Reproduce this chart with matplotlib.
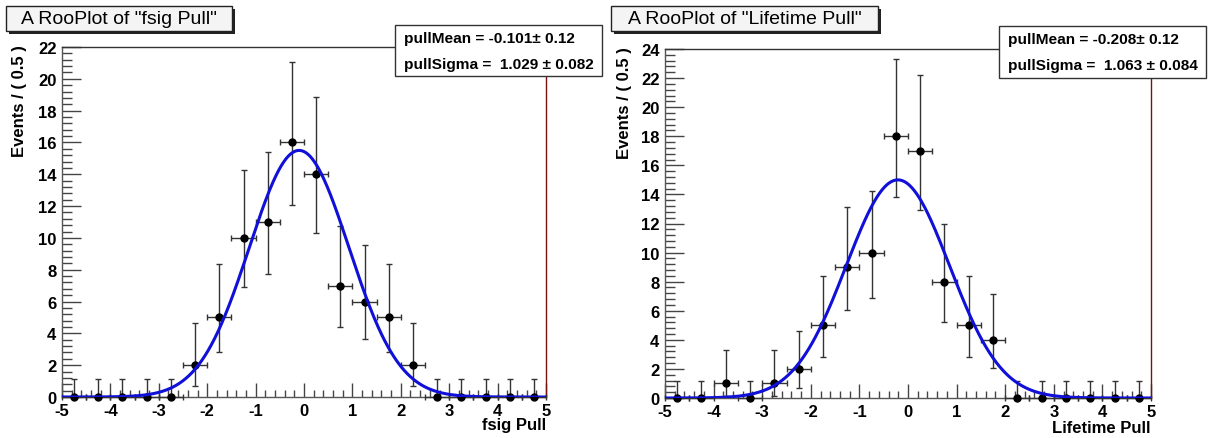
import numpy as np
import matplotlib
matplotlib.use("Agg")
import matplotlib.pyplot as plt
from matplotlib.patches import Rectangle
from matplotlib.ticker import MultipleLocator

plt.rcParams['font.family'] = ['Liberation Sans', 'DejaVu Sans']
plt.rcParams['axes.unicode_minus'] = False

W, H = 1214, 439

# ---- data ----
bin_centers = [-4.75, -4.25, -3.75, -3.25, -2.75, -2.25, -1.75, -1.25, -0.75, -0.25,
               0.25, 0.75, 1.25, 1.75, 2.25, 2.75, 3.25, 3.75, 4.25, 4.75]
fsig_counts = [0, 0, 0, 0, 0, 2, 5, 10, 11, 16, 14, 7, 6, 5, 2, 0, 0, 0, 0, 0]
life_counts = [0, 0, 1, 0, 1, 2, 5, 9, 10, 18, 17, 8, 5, 4, 0, 0, 0, 0, 0, 0]

# Poisson (asymmetric) error bar extents, keyed by count
err_low = {0: 0.0, 1: 0.83, 2: 1.29, 4: 1.91, 5: 2.16, 6: 2.38, 7: 2.58, 8: 2.77,
           9: 2.94, 10: 3.11, 11: 3.27, 14: 3.70, 16: 3.96, 17: 4.08, 18: 4.20}
err_high = {0: 1.15, 1: 2.30, 2: 2.64, 4: 3.16, 5: 3.38, 6: 3.58, 7: 3.77, 8: 3.95,
            9: 4.11, 10: 4.26, 11: 4.42, 14: 4.83, 16: 5.08, 17: 5.20, 18: 5.32}

fsig_mean, fsig_sigma, fsig_peak = -0.101, 1.029, 15.5
life_mean, life_sigma, life_peak = -0.208, 1.063, 15.0

panels = [
    dict(title='A RooPlot of "fsig Pull"', counts=fsig_counts, mean=fsig_mean,
         sigma=fsig_sigma, peak=fsig_peak, ymax=22, xlabel='fsig Pull',
         stat=('pullMean = -0.101\u00b1 0.12', 'pullSigma =  1.029 \u00b1 0.082'),
         ax_px=(62, 546, 48, 398), title_px=(6, 232, 7, 32),
         stat_px=(395, 602, 26, 77), ylab_x=20, xlab_y=426),
    dict(title='A RooPlot of "Lifetime Pull"', counts=life_counts, mean=life_mean,
         sigma=life_sigma, peak=life_peak, ymax=24, xlabel='Lifetime Pull',
         stat=('pullMean = -0.208\u00b1 0.12', 'pullSigma =  1.063 \u00b1 0.084'),
         ax_px=(665, 1151, 50, 399), title_px=(611, 878, 7, 32),
         stat_px=(999, 1206, 27, 79), ylab_x=625, xlab_y=429),
]

fig = plt.figure(figsize=(W / 100, H / 100), dpi=100)
fig.patch.set_facecolor('white')

def fx(px):
    return px / W

def fy(py):
    return 1 - py / H

for p in panels:
    x0, x1, yt, yb = p['ax_px']
    ax = fig.add_axes([fx(x0), fy(yb), fx(x1 - x0), (yb - yt) / H])
    ax.set_xlim(-5, 5)
    ax.set_ylim(0, p['ymax'])
    counts = np.array(p['counts'])
    lo = np.array([err_low[c] for c in counts])
    hi = np.array([err_high[c] for c in counts])
    ax.errorbar(bin_centers, counts, yerr=[lo, hi], xerr=0.25, fmt='o',
                color='black', ecolor='#333333', elinewidth=1.0, capsize=2.5,
                capthick=1.0, markersize=5, clip_on=False, zorder=3)
    xs = np.linspace(-5, 5, 600)
    ys = p['peak'] * np.exp(-0.5 * ((xs - p['mean']) / p['sigma']) ** 2)
    ax.plot(xs, ys, color='#1010d8', lw=2.2, zorder=4)

    ax.xaxis.set_major_locator(MultipleLocator(1))
    ax.xaxis.set_minor_locator(MultipleLocator(0.2))
    ax.yaxis.set_major_locator(MultipleLocator(2))
    ax.yaxis.set_minor_locator(MultipleLocator(0.4))
    ax.tick_params(axis='x', which='major', direction='in', length=10, width=1,
                   color='#444444', top=False, labelsize=12, pad=4)
    ax.tick_params(axis='x', which='minor', direction='in', length=5, width=1,
                   color='#444444', top=False)
    ax.tick_params(axis='y', which='major', direction='in', length=14, width=1,
                   color='#444444', right=False, labelsize=12, pad=4)
    ax.tick_params(axis='y', which='minor', direction='in', length=7, width=1,
                   color='#444444', right=False)
    for lab in ax.get_xticklabels() + ax.get_yticklabels():
        lab.set_fontweight('bold')
    ax.spines['left'].set_color('#555555')
    ax.spines['bottom'].set_color('#555555')
    ax.spines['top'].set_color('#333333')
    ax.spines['right'].set_color('#7a1010')
    for s in ax.spines.values():
        s.set_linewidth(1.0)

    # y label
    fig.text(fx(p['ylab_x']), fy(yt - 3), 'Events / ( 0.5 )', rotation=90,
             ha='center', va='top', fontsize=12, fontweight='bold')
    # x label
    fig.text(fx(x1), fy(p['xlab_y']), p['xlabel'], ha='right', va='center',
             fontsize=12, fontweight='bold')

    # title box with shadow
    tx0, tx1, ty0, ty1 = p['title_px']
    fig.patches.append(Rectangle((fx(tx0 + 3), fy(ty1 + 3)), fx(tx1 - tx0), (ty1 - ty0) / H,
                                 transform=fig.transFigure, facecolor='#222222',
                                 edgecolor='none', zorder=5))
    fig.patches.append(Rectangle((fx(tx0), fy(ty1)), fx(tx1 - tx0), (ty1 - ty0) / H,
                                 transform=fig.transFigure, facecolor='#f4f4f4',
                                 edgecolor='#222222', lw=1.0, zorder=6))
    fig.text(fx((tx0 + tx1) / 2), fy((ty0 + ty1) / 2 + 0.5), p['title'], ha='center',
             va='center', fontsize=14, zorder=7)

    # stat box
    sx0, sx1, sy0, sy1 = p['stat_px']
    fig.patches.append(Rectangle((fx(sx0), fy(sy1)), fx(sx1 - sx0), (sy1 - sy0) / H,
                                 transform=fig.transFigure, facecolor='white',
                                 edgecolor='#333333', lw=1.0, zorder=6))
    fig.text(fx(sx0 + 9), fy(sy0 + 13), p['stat'][0], ha='left', va='center',
             fontsize=11.1, fontweight='bold', zorder=7)
    fig.text(fx(sx0 + 9), fy(sy0 + 39), p['stat'][1], ha='left', va='center',
             fontsize=11.1, fontweight='bold', zorder=7)

fig.savefig('out.png', dpi=100, facecolor='white')
